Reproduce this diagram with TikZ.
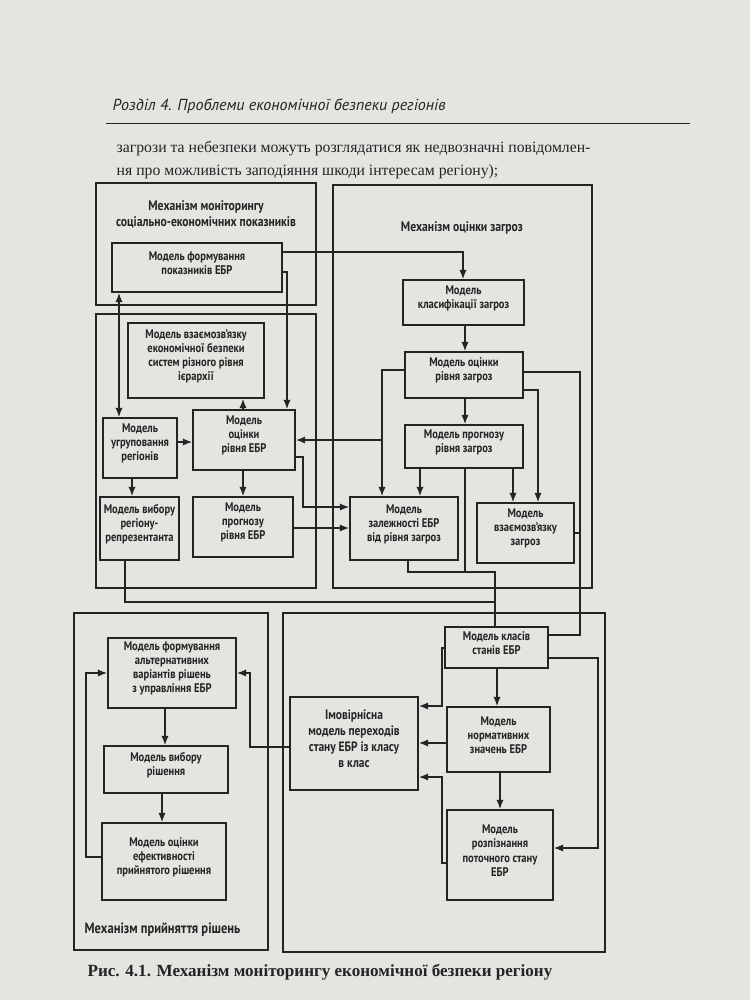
\documentclass[tikz,border=0pt]{standalone}
\usepackage{fontspec}
\setmainfont{Liberation Serif}
\newfontfamily\dfont[FakeStretch=0.84]{PT Sans}
\newfontfamily\hfont{PT Sans}
\usetikzlibrary{fit,arrows.meta}
\definecolor{ink}{HTML}{242424}
\definecolor{paper}{HTML}{E4E4E1}
\begin{document}
\begin{tikzpicture}[x=0.75pt,y=-0.75pt,
  frame/.style={draw=ink, line width=1.3pt, inner sep=0pt},
  mbox/.style={draw=ink, line width=1.3pt, inner sep=0pt, align=center, text=ink,
    font=\dfont\bfseries\fontsize{9.4}{10.6}\selectfont},
  bigbox/.style={mbox, font=\dfont\bfseries\fontsize{10.2}{11.8}\selectfont},
  conn/.style={draw=ink, line width=1.1pt},
  arr/.style={conn, -{Latex[length=7pt,width=5.5pt]}},
  barr/.style={conn, {Latex[length=7pt,width=5.5pt]}-{Latex[length=7pt,width=5.5pt]}},
  ftitle/.style={align=center, text=ink, font=\dfont\bfseries\fontsize{10.4}{12}\selectfont}]
\useasboundingbox (0,0) rectangle (750,1000);
\fill[paper] (0,0) rectangle (750,1000);

% page header and text
\node[anchor=base west, text=ink, font=\hfont\itshape\fontsize{12}{14}\selectfont] (hdr) at (108,110) {Розділ 4. Проблеми економічної безпеки регіонів};
\draw[ink, line width=0.6pt] (106,123) -- (690,123);
\node[anchor=base west, text=ink, font=\fontsize{11.8}{14}\selectfont] (b1) at (112,152) {загрози та небезпеки можуть розглядатися як недвозначні повідомлен-};
\node[anchor=base west, text=ink, font=\fontsize{11.8}{14}\selectfont] (b2) at (112,175) {ня про можливість заподіяння шкоди інтересам регіону);};

% frames
\node[frame, fit={(96,183)(316,305)}] (M1) {};
\node[frame, fit={(96,314)(316,588)}] (M2) {};
\node[frame, fit={(333,185)(592,588)}] (Z) {};
\node[frame, fit={(74,613)(268,950)}] (D) {};
\node[frame, fit={(283,613)(605,952)}] (R) {};

\node[ftitle] (tM1) at (206,214) {Механізм моніторингу\\соціально-економічних показників};
\node[ftitle] (tZ) at (462,228) {Механізм оцінки загроз};
\node[ftitle, anchor=west, font=\dfont\bfseries\fontsize{11.2}{13}\selectfont] (tD) at (80,930) {Механізм прийняття рішень};

% models of the monitoring mechanism
\node[mbox, fit={(112,243)(282,292)}] (form) {Модель формування\\показників ЕБР};
\node[mbox, fit={(128,323)(264,398)}] (vzs) {Модель взаємозв’язку\\економічної безпеки\\систем різного рівня\\ієрархії};
\node[mbox, fit={(103,418)(177,478)}] (grp) {Модель\\угруповання\\регіонів};
\node[mbox, fit={(193,410)(295,470)}] (ocEBR) {Модель\\оцінки\\рівня ЕБР};
\node[mbox, fit={(100,497)(179,560)}] (vyb) {Модель вибору\\регіону-\\репрезентанта};
\node[mbox, fit={(193,497)(293,557)}] (prEBR) {Модель\\прогнозу\\рівня ЕБР};

% threat assessment
\node[mbox, fit={(403,280)(524,325)}] (kls) {Модель\\класифікації загроз};
\node[mbox, fit={(405,352)(523,398)}] (ocz) {Модель оцінки\\рівня загроз};
\node[mbox, fit={(405,425)(523,468)}] (prz) {Модель прогнозу\\рівня загроз};
\node[mbox, fit={(350,497)(458,560)}] (zal) {Модель\\залежності ЕБР\\від рівня загроз};
\node[mbox, fit={(477,503)(574,563)}] (vzz) {Модель\\взаємозв’язку\\загроз};

% decision making
\node[mbox, fit={(108,638)(236,708)}] (alt) {Модель формування\\альтернативних\\варіантів рішень\\з управління ЕБР};
\node[mbox, fit={(104,746)(228,793)}] (vybr) {Модель вибору\\рішення};
\node[mbox, fit={(102,823)(226,900)}] (ocef) {Модель оцінки\\ефективності\\прийнятого рішення};

% state classes
\node[mbox, fit={(445,627)(548,668)}] (kst) {Модель класів\\станів ЕБР};
\node[bigbox, fit={(290,697)(418,790)}] (imv) {Імовірнісна\\модель переходів\\стану ЕБР із класу\\в клас};
\node[mbox, fit={(447,707)(550,772)}] (norm) {Модель\\нормативних\\значень ЕБР};
\node[mbox, fit={(447,810)(553,900)}] (roz) {Модель\\розпізнання\\поточного стану\\ЕБР};

% connectors: monitoring
\draw[arr] (form.east |- 0,252) -| (463,0 |- kls.north);
\draw[arr] (form.east |- 0,272) -| (287,0 |- ocEBR.north);
\draw[barr] (119,0 |- form.south) -- (119,0 |- grp.north);
\draw[arr] (grp.east |- 0,442) -- (ocEBR.west |- 0,442);
\draw[arr] (132,0 |- grp.south) -- (132,0 |- vyb.north);
\draw[arr] (243,0 |- ocEBR.north) -- (243,0 |- vzs.south);
\draw[arr] (243,0 |- ocEBR.south) -- (243,0 |- prEBR.north);
\draw[arr] (ocEBR.east |- 0,457) -| (303,480) |- (zal.west |- 0,507);
\draw[arr] (prEBR.east |- 0,528) -- (zal.west |- 0,528);

% connectors: threats
\draw[arr] (465,0 |- kls.south) -- (465,0 |- ocz.north);
\draw[arr] (465,0 |- ocz.south) -- (465,0 |- prz.north);
\coordinate (br1) at (382,440);
\draw[arr] (ocz.west |- 0,370) -| (382,0 |- zal.north);
\draw[arr] (br1) -- (ocEBR.east |- br1);
\draw[arr] (420,0 |- prz.south) -- (420,0 |- zal.north);
\draw[arr] (513,0 |- prz.south) -- (513,0 |- vzz.north);
\draw[arr] (ocz.east |- 0,390) -| (538,0 |- vzz.north);
\draw[conn] (ocz.east |- 0,372) -| (580,635) -- (kst.east |- 0,635);
\draw[conn] (vzz.east |- 0,533) -- (580,533);
\coordinate (j1) at (495,572);
\coordinate (j2) at (495,602);
\draw[conn] (408,0 |- zal.south) |- (j1) -- (495,0 |- kst.north);
\draw[conn] (465,0 |- prz.south) -- (465,0 |- j1);
\draw[conn] (125,0 |- vyb.south) |- (j2);

% connectors: state classes
\draw[arr] (kst.west |- 0,648) -| (442,690) |- (imv.east |- 0,706);
\draw[arr] (norm.west |- 0,743) -- (imv.east |- 0,743);
\draw[arr] (roz.west |- 0,863) -| (442,800) |- (imv.east |- 0,777);
\draw[arr] (497,0 |- kst.south) -- (497,0 |- norm.north);
\draw[arr] (500,0 |- norm.south) -- (500,0 |- roz.north);
\draw[arr] (kst.east |- 0,658) -| (598,800) |- (roz.east |- 0,848);
\draw[arr] (imv.west |- 0,747) -| (250,700) |- (alt.east |- 0,673);

% connectors: decisions
\draw[arr] (165,0 |- alt.south) -- (165,0 |- vybr.north);
\draw[arr] (162,0 |- vybr.south) -- (162,0 |- ocef.north);
\draw[arr] (ocef.west |- 0,857) -| (86,760) |- (alt.west |- 0,673);

% caption
\node[text=ink, font=\bfseries\fontsize{12.8}{15}\selectfont] (cap) at (320,972) {Рис. 4.1. Механізм моніторингу економічної безпеки регіону};
\end{tikzpicture}
\end{document}
